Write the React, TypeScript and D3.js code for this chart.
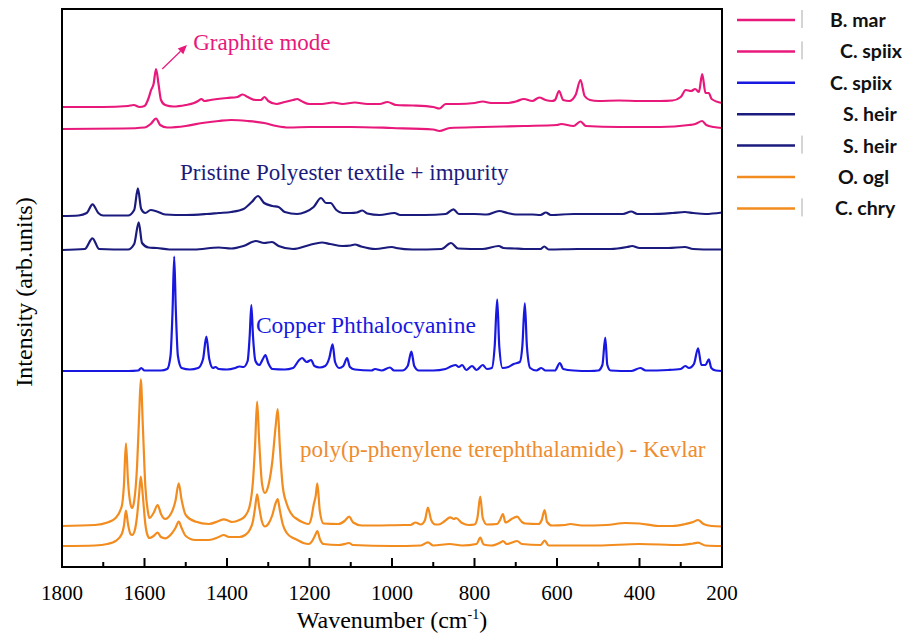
import * as d3 from "d3";

// x axis (wavenumber, cm-1)
const majorTicks = [1800, 1600, 1400, 1200, 1000, 800, 600, 400, 200];
const minorTicks = [1700, 1500, 1300, 1100, 900, 700, 500, 300];

// legend order
const seriesNames = ["B. mar", "C. spiix", "C. spiix", "S. heir", "S. heir", "O. ogl", "C. chry"];
const seriesColors = ["#e8197b", "#e8197b", "#1818e0", "#1b1b7e", "#1b1b7e", "#f28c1f", "#f28c1f"];
// vertical stacking offset of each spectrum (arb. units)
const seriesOffsets = [46.0, 43.8, 19.6, 35.1, 31.7, 4.1, 2.1];

// [wavenumber, intensity above own baseline]
const bMar: [number, number][] = [
  [1800, 0], [1700, 0], [1640, 0.1], [1626, 0.2], [1612, 0], [1600, 0.1], [1590, 0.9], [1584, 1.7],
  [1578, 2.3], [1572, 3.8], [1566, 2.3], [1560, 0.7], [1550, 0.2], [1530, 0.05], [1500, 0.2],
  [1480, 0.4], [1470, 0.6], [1462, 0.8], [1455, 0.6], [1440, 0.7], [1400, 0.9], [1375, 1.0],
  [1362, 1.25], [1350, 1.0], [1330, 0.7], [1318, 0.7], [1309, 1.0], [1300, 0.6], [1280, 0.3],
  [1260, 0.5], [1240, 0.7], [1230, 0.8], [1220, 0.6], [1200, 0.3], [1170, 0.3], [1143, 0.45],
  [1120, 0.3], [1090, 0.45], [1060, 0.3], [1030, 0.3], [1011, 0.5], [990, 0.2], [950, 0.15],
  [900, 0], [885, -0.15], [870, 0.3], [840, 0.3], [800, 0.4], [780, 0.55], [760, 0.4], [720, 0.4],
  [700, 0.55], [680, 0.8], [660, 0.6], [643, 0.95], [628, 0.7], [612, 0.6], [605, 0.7], [595, 1.6],
  [585, 0.7], [570, 0.6], [555, 1.2], [543, 2.7], [533, 1.1], [520, 0.7], [500, 0.6], [450, 0.65],
  [400, 0.6], [350, 0.6], [320, 0.65], [300, 1.0], [288, 1.7], [275, 1.6], [265, 1.8], [256, 1.5],
  [248, 3.3], [240, 1.4], [232, 1.4], [225, 0.8], [200, 0.4],
];

const cSpiixPink: [number, number][] = [
  [1800, 0], [1650, 0.05], [1600, 0.15], [1585, 0.5], [1572, 1.05], [1562, 0.4], [1545, 0.15],
  [1500, 0.3], [1460, 0.6], [1420, 0.8], [1390, 0.9], [1350, 0.8], [1310, 0.6], [1280, 0.3],
  [1250, 0.15], [1200, 0.2], [1100, 0.2], [1000, 0.1], [900, -0.05], [885, -0.2], [860, 0.1],
  [780, 0.2], [680, 0.3], [600, 0.4], [590, 0.5], [560, 0.3], [543, 0.75], [530, 0.3], [450, 0.2],
  [350, 0.2], [280, 0.4], [265, 0.5], [248, 0.8], [238, 0.4], [220, 0.2], [200, 0.1],
];

const cSpiixBlue: [number, number][] = [
  [1800, 0], [1700, 0], [1640, 0], [1615, 0.05], [1608, 0.3], [1600, 0.05], [1560, 0.05],
  [1545, 0.2], [1537, 1.5], [1532, 6.0], [1528, 11.43], [1524, 6.0], [1519, 1.5], [1510, 0.3],
  [1490, 0.15], [1470, 0.3], [1458, 1.2], [1450, 3.43], [1443, 1.2], [1434, 0.3], [1428, 0.4],
  [1420, 0.2], [1400, 0.15], [1380, 0.3], [1370, 0.45], [1360, 0.4], [1350, 1.0], [1345, 3.5],
  [1341, 6.6], [1337, 3.5], [1331, 1.0], [1322, 0.6], [1313, 1.2], [1307, 1.6], [1300, 0.8],
  [1290, 0.2], [1260, 0.15], [1240, 0.3], [1225, 1.1], [1218, 1.3], [1207, 0.9], [1196, 1.1],
  [1188, 0.5], [1175, 0.35], [1162, 0.5], [1152, 1.3], [1144, 2.67], [1138, 0.9], [1128, 0.3],
  [1118, 0.5], [1109, 1.3], [1102, 0.4], [1090, 0.15], [1050, 0.05], [1041, 0.2], [1025, 0.05],
  [1005, 0.35], [995, 0.05], [975, 0.05], [962, 0.5], [953, 1.93], [946, 0.5], [935, 0.05],
  [900, 0.05], [870, 0.2], [855, 0.5], [846, 0.6], [838, 0.4], [830, 0.6], [820, 0.1], [806, 0.5],
  [795, 0.1], [780, 0.6], [770, 0.2], [758, 0.3], [751, 2.5], [745, 7.17], [740, 2.5], [732, 0.3],
  [718, 0.4], [705, 0.7], [690, 0.9], [684, 2.5], [678, 6.77], [673, 2.5], [665, 0.3], [650, 0.05],
  [638, 0.3], [628, 0.05], [605, 0.05], [593, 0.8], [585, 0.2], [560, 0.05], [520, 0], [500, 0.05],
  [490, 0.6], [483, 3.33], [478, 0.6], [470, 0.05], [420, 0], [398, 0.3], [385, 0.05], [330, 0.1],
  [300, 0.2], [289, 0.5], [280, 0.3], [268, 0.7], [258, 2.27], [250, 0.6], [240, 0.6], [232, 1.17],
  [226, 0.3], [215, 0.05], [200, 0],
];

const sHeir1: [number, number][] = [
  [1800, 0], [1760, 0.05], [1740, 0.3], [1726, 1.17], [1712, 0.3], [1700, 0.05], [1640, 0.05],
  [1625, 0.6], [1616, 2.76], [1608, 0.7], [1598, 0.3], [1585, 0.6], [1570, 0.45], [1550, 0.15],
  [1500, 0.1], [1450, 0.2], [1420, 0.3], [1390, 0.4], [1360, 0.7], [1340, 1.4], [1325, 2.0],
  [1310, 1.3], [1290, 1.0], [1275, 0.9], [1260, 0.4], [1230, 0.2], [1210, 0.4], [1190, 0.9],
  [1172, 1.8], [1160, 1.3], [1149, 1.3], [1135, 0.6], [1120, 0.3], [1100, 0.3], [1085, 0.35],
  [1072, 0.55], [1060, 0.25], [1030, 0.1], [994, 0.3], [980, 0.1], [920, 0.1], [870, 0.2],
  [851, 0.67], [838, 0.2], [800, 0.2], [770, 0.15], [740, 0.5], [720, 0.3], [700, 0.15], [660, 0.15],
  [640, 0.1], [627, 0.35], [615, 0.1], [560, 0.2], [500, 0.2], [440, 0.2], [420, 0.45], [405, 0.2],
  [370, 0.2], [320, 0.3], [290, 0.4], [270, 0.3], [240, 0.2], [200, 0.35],
];

const sHeir2: [number, number][] = [
  [1800, 0], [1745, 0.1], [1726, 1.17], [1710, 0.1], [1640, 0.05], [1625, 0.6], [1614, 2.77],
  [1606, 0.7], [1590, 0.25], [1570, 0.2], [1540, 0.05], [1480, 0.05], [1420, 0.25], [1390, 0.15],
  [1360, 0.4], [1330, 0.9], [1310, 0.7], [1291, 0.8], [1275, 0.4], [1240, 0.1], [1200, 0.5],
  [1170, 0.75], [1150, 0.6], [1120, 0.4], [1100, 0.45], [1090, 0.55], [1075, 0.35], [1040, 0.1],
  [1000, 0.3], [990, 0.2], [950, 0.05], [880, 0.1], [857, 0.7], [840, 0.15], [780, 0.1], [741, 0.4],
  [730, 0.2], [702, 0.15], [680, 0.1], [640, 0.1], [631, 0.35], [620, 0.05], [550, 0.1], [470, 0.1],
  [430, 0.3], [418, 0.4], [400, 0.2], [330, 0.2], [290, 0.3], [270, 0.1], [220, 0.05], [200, 0.05],
];

const oOgl: [number, number][] = [
  [1800, 0], [1720, 0.1], [1690, 0.35], [1670, 0.8], [1655, 2.0], [1650, 4.0], [1645, 8.27],
  [1640, 4.5], [1634, 2.2], [1630, 1.8], [1625, 2.5], [1618, 6.0], [1613, 11.0], [1609, 14.67],
  [1604, 10.0], [1598, 4.0], [1592, 1.5], [1588, 0.8], [1578, 1.3], [1568, 2.1], [1560, 1.2],
  [1550, 0.7], [1535, 1.3], [1525, 2.5], [1517, 4.27], [1510, 2.6], [1500, 1.1], [1477, 0.45],
  [1444, 0.2], [1420, 0.5], [1408, 0.67], [1395, 0.5], [1388, 0.4], [1370, 0.6], [1356, 1.0],
  [1345, 2.0], [1337, 4.5], [1332, 8.0], [1327, 12.43], [1322, 8.5], [1315, 4.2], [1308, 3.3],
  [1300, 4.0], [1290, 6.5], [1282, 10.0], [1277, 11.7], [1272, 8.0], [1265, 4.0], [1255, 2.2],
  [1240, 1.0], [1234, 0.8], [1215, 0.35], [1202, 0.2], [1195, 0.9], [1190, 2.1], [1185, 3.0],
  [1181, 4.27], [1175, 1.5], [1166, 0.25], [1130, 0.2], [1115, 0.5], [1104, 0.93], [1094, 0.35],
  [1073, 0.05], [1040, 0.05], [970, 0.1], [955, 0.1], [943, 0.35], [930, 0.15], [920, 0.6],
  [913, 1.83], [905, 0.6], [895, 0.15], [887, 0.15], [872, 0.5], [859, 0.87], [850, 0.7], [845, 0.8],
  [830, 0.3], [814, 0.1], [800, 0.15], [793, 0.8], [786, 2.93], [780, 0.8], [770, 0.15], [745, 0.2],
  [738, 0.6], [731, 1.2], [725, 0.35], [721, 0.4], [710, 0.7], [697, 0.93], [685, 0.4], [677, 0.25],
  [645, 0.2], [637, 0.6], [630, 1.6], [624, 0.4], [612, 0.05], [580, 0.1], [568, 0.2], [540, 0.05],
  [480, 0.1], [434, 0.3], [400, 0.25], [354, 0], [320, 0], [289, 0.2], [270, 0.4], [258, 0.6],
  [245, 0.2], [225, 0], [200, -0.05],
];

const cChry: [number, number][] = [
  [1800, 0], [1720, 0.05], [1690, 0.2], [1670, 0.5], [1655, 1.2], [1650, 2.0], [1645, 3.53],
  [1640, 2.2], [1634, 1.2], [1630, 1.1], [1624, 1.5], [1618, 3.0], [1613, 5.2], [1609, 6.93],
  [1604, 5.0], [1598, 2.2], [1592, 1.0], [1588, 0.8], [1578, 1.0], [1568, 1.33], [1560, 0.9],
  [1550, 0.77], [1535, 1.2], [1525, 1.8], [1517, 2.43], [1510, 1.8], [1500, 1.0], [1477, 0.6],
  [1444, 0.6], [1420, 0.9], [1408, 1.1], [1395, 0.9], [1370, 0.9], [1356, 1.1], [1345, 1.6],
  [1337, 2.5], [1332, 3.8], [1327, 5.17], [1322, 3.9], [1315, 2.4], [1308, 1.95], [1300, 2.2],
  [1290, 3.1], [1282, 4.3], [1277, 4.7], [1272, 3.6], [1265, 2.2], [1255, 1.3], [1240, 0.8],
  [1234, 0.7], [1215, 0.3], [1202, 0.2], [1192, 0.6], [1186, 1.1], [1181, 1.5], [1175, 0.7],
  [1166, 0.2], [1130, 0.1], [1110, 0.25], [1104, 0.3], [1095, 0.1], [1000, 0], [930, 0.05],
  [913, 0.37], [900, 0.05], [860, 0.2], [830, 0.05], [795, 0.2], [786, 0.83], [778, 0.15],
  [760, 0.05], [735, 0.4], [731, 0.5], [722, 0.2], [705, 0.4], [697, 0.5], [685, 0.2], [640, 0.1],
  [630, 0.53], [620, 0.05], [500, 0.05], [400, 0.2], [300, 0.1], [270, 0.25], [258, 0.33],
  [240, 0.05], [200, 0],
];

const seriesData = [bMar, cSpiixPink, cSpiixBlue, sHeir1, sHeir2, oOgl, cChry];

// legend cosmetics
const legendLabelX = [830, 840, 830, 843, 843, 838, 835];
const legendHasFlag = [true, true, false, false, true, false, true];

export default function App() {
  const width = 906;
  const height = 639;
  const plot = {left: 62, right: 722, top: 9, bottom: 567};

  const x = d3.scaleLinear().domain([1800, 200]).range([plot.left, plot.right]);
  const y = d3.scaleLinear().domain([0, 55.8]).range([plot.bottom, plot.top]);

  const makeLine = (offset: number) =>
    d3.line<[number, number]>()
      .x(d => x(d[0]))
      .y(d => y(d[1] + offset))
      .curve(d3.curveMonotoneX);

  // graphite arrow (from peak to label)
  const ax0 = x(1557), ay0 = y(49.8), ax1 = x(1497), ay1 = y(52.2);
  const ang = Math.atan2(ay1 - ay0, ax1 - ax0);
  const headLen = 9, headW = 4;
  const bx = ax1 - headLen * Math.cos(ang), by = ay1 - headLen * Math.sin(ang);
  const head = [
    [ax1, ay1],
    [bx + headW * Math.sin(ang), by - headW * Math.cos(ang)],
    [bx - headW * Math.sin(ang), by + headW * Math.cos(ang)],
  ].map(p => p.join(",")).join(" ");

  const serif = "Liberation Serif";

  return (
    <svg width={width} height={height} style={{position: "absolute", left: 0, top: 0, background: "#fff"}}>
      <defs>
        <clipPath id="plotClip">
          <rect x={plot.left} y={plot.top} width={plot.right - plot.left} height={plot.bottom - plot.top}/>
        </clipPath>
      </defs>

      <g clipPath="url(#plotClip)">
        {seriesData.map((pts, i) => (
          <path key={i} d={makeLine(seriesOffsets[i])(pts) || ""} fill="none"
                stroke={seriesColors[i]} strokeWidth={2.2} strokeLinejoin="round"/>
        ))}
      </g>

      {/* frame */}
      <rect x={plot.left} y={plot.top} width={plot.right - plot.left} height={plot.bottom - plot.top}
            fill="none" stroke="#000" strokeWidth={2}/>

      {/* bottom ticks, pointing inward */}
      {majorTicks.map(t => (
        <line key={"M" + t} x1={x(t)} x2={x(t)} y1={plot.bottom} y2={plot.bottom - 9} stroke="#000" strokeWidth={2}/>
      ))}
      {minorTicks.map(t => (
        <line key={"m" + t} x1={x(t)} x2={x(t)} y1={plot.bottom} y2={plot.bottom - 5} stroke="#000" strokeWidth={2}/>
      ))}
      {majorTicks.map(t => (
        <text key={"l" + t} x={x(t)} y={600} textAnchor="middle" fontFamily={serif} fontSize={21} fill="#000">{t}</text>
      ))}

      {/* axis titles */}
      <text x={(plot.left + plot.right) / 2} y={628} textAnchor="middle" fontFamily={serif} fontSize={24} fill="#000">
        Wavenumber (cm<tspan dy={-9} fontSize={14}>-1</tspan><tspan dy={9}>)</tspan>
      </text>
      <text transform={`translate(32,${(plot.top + plot.bottom) / 2 + 4}) rotate(-90)`} textAnchor="middle"
            fontFamily={serif} fontSize={24} fill="#000">Intensity (arb.units)</text>

      {/* annotations */}
      <line x1={ax0} y1={ay0} x2={bx} y2={by} stroke="#e8197b" strokeWidth={1.2}/>
      <polygon points={head} fill="#e8197b"/>
      <text x={x(1482)} y={y(51.7)} fontFamily={serif} fontSize={23} fill="#e8197b">Graphite mode</text>
      <text x={x(1514)} y={y(38.7)} fontFamily={serif} fontSize={23} fill="#1b1b7e">Pristine Polyester textile + impurity</text>
      <text x={x(1330)} y={y(23.4)} fontFamily={serif} fontSize={23.5} fill="#1818e0">Copper Phthalocyanine</text>
      <text x={x(1223)} y={y(11.0)} fontFamily={serif} fontSize={23} fill="#ee8c30">poly(p-phenylene terephthalamide) - Kevlar</text>

      {/* legend */}
      {seriesNames.map((name, i) => {
        const ly = 20 + i * 31.4;
        return (
          <g key={"lg" + i}>
            <line x1={737} x2={795} y1={ly} y2={ly} stroke={seriesColors[i]} strokeWidth={2.5}/>
            {legendHasFlag[i] && <line x1={802} x2={802} y1={ly - 10} y2={ly + 8} stroke="#aaa" strokeWidth={1}/>}
            <text x={legendLabelX[i]} y={ly + 7} fontFamily="Lato" fontWeight={700}
                  fontSize={19.5} fill="#111">{name}</text>
          </g>
        );
      })}
    </svg>
  );
}
